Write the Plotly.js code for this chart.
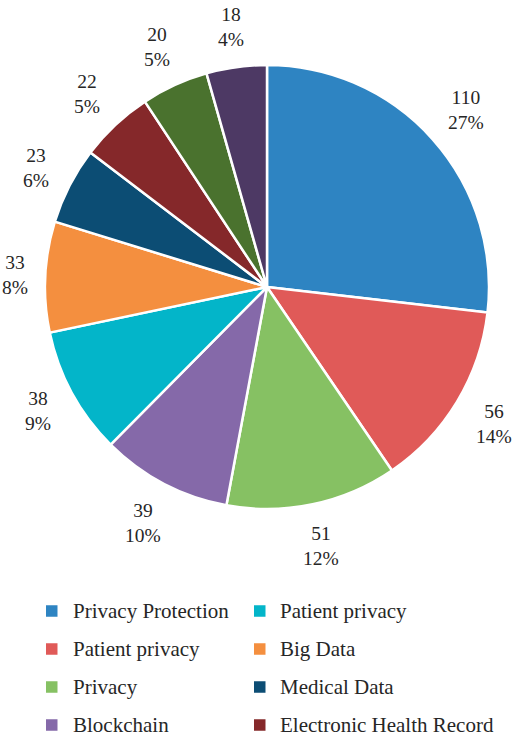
<!DOCTYPE html>
<html>
<head>
<meta charset="utf-8">
<script src="https://cdn.plot.ly/plotly-3.0.1.min.js"></script>
<style>html,body{margin:0;padding:0;background:#fff;}</style>
</head>
<body>
<div id="chart"></div>
<script>
// ---- data ----
const categories = ["Privacy Protection", "Patient privacy", "Privacy", "Blockchain", "Patient privacy",
                    "Big Data", "Medical Data", "Electronic Health Record", "Category 9", "Category 10"];
const counts = [110, 56, 51, 39, 38, 33, 23, 22, 20, 18];
const colors = ["#2E84C2", "#E05A58", "#86C163", "#8569A9", "#03B5C9",
                "#F48F3F", "#0C4D74", "#85282A", "#4A722E", "#4D3964"];
const legendCount = 8;   // entries visible in the legend

// ---- layout constants ----
const W = 528, H = 737;
const cx = 267, cy = 287, r = 222;
const fontFam = 'Liberation Serif';
const labelSize = 19.5, legendSize = 21;
const textColor = '#262626';

const total = counts.reduce((a, b) => a + b, 0);
const pieLabels = categories.map((c, i) => (i + 1) + '. ' + c);

const pie = {
  type: 'pie',
  labels: pieLabels,
  values: counts,
  sort: false,
  direction: 'clockwise',
  rotation: 0,
  marker: { colors: colors, line: { color: '#ffffff', width: 2.5 } },
  textinfo: 'none',
  hovertemplate: '%{customdata}: %{value} (%{percent})<extra></extra>',
  customdata: categories,
  showlegend: false,
  domain: { x: [(cx - r) / W, (cx + r) / W], y: [(H - cy - r) / H, (H - cy + r) / H] }
};

// approximate text width (serif digits 0.5em, % 0.833em)
function textW(str, size) {
  let w = 0;
  for (const ch of str) w += (ch === '%' ? 0.833 : 0.5);
  return w * size;
}

const annotations = [];
let cum = 0;
counts.forEach((v, i) => {
  const mid = (cum + v / 2) / total * 2 * Math.PI;
  cum += v;
  const pct = Math.round(v / total * 100) + '%';
  const hw = Math.max(textW(String(v), labelSize), textW(pct, labelSize)) / 2;
  const hh = 23;
  const s = Math.sin(mid), c = Math.cos(mid);
  const R = 220 + 18 + Math.abs(s) * hw + Math.abs(c) * hh;
  const px = cx + R * s, py = cy - R * c;
  annotations.push({
    xref: 'paper', yref: 'paper', x: px / W, y: 1 - py / H,
    xanchor: 'center', yanchor: 'middle', showarrow: false,
    text: v + '<br>' + pct,
    font: { family: fontFam, size: labelSize, color: textColor }
  });
});

// legend (two columns, filled column by column)
const shapes = [];
const rows = 4;
const colMarkX = [46, 254], colTextX = [71, 278];
const rowY0 = 611, rowPitch = 38, sq = 11.5;
for (let i = 0; i < legendCount; i++) {
  const col = Math.floor(i / rows), row = i % rows;
  const yc = rowY0 + row * rowPitch;
  shapes.push({
    type: 'rect', xref: 'paper', yref: 'paper',
    x0: colMarkX[col] / W, x1: (colMarkX[col] + sq) / W,
    y0: 1 - (yc + sq / 2) / H, y1: 1 - (yc - sq / 2) / H,
    fillcolor: colors[i], line: { width: 0 }
  });
  annotations.push({
    xref: 'paper', yref: 'paper', x: colTextX[col] / W, y: 1 - yc / H,
    xanchor: 'left', yanchor: 'middle', showarrow: false,
    text: categories[i],
    font: { family: fontFam, size: legendSize, color: textColor }
  });
}

const layout = {
  width: W, height: H,
  margin: { l: 0, r: 0, t: 0, b: 0 },
  paper_bgcolor: '#ffffff',
  showlegend: false,
  annotations: annotations,
  shapes: shapes
};

Plotly.newPlot('chart', [pie], layout, { displayModeBar: false });
</script>
</body>
</html>
